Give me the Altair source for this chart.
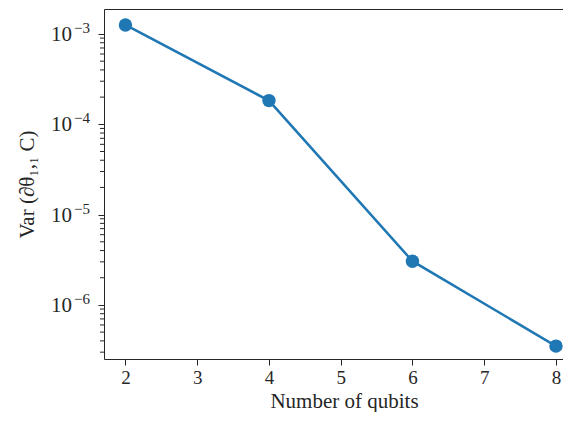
import altair as alt
import pandas as pd

# data
qubits = [2, 4, 6, 8]
variance = [1.26e-3, 1.83e-4, 3.05e-6, 3.5e-7]

x_ticks = [2, 3, 4, 5, 6, 7, 8]
y_major = [1e-6, 1e-5, 1e-4, 1e-3]
y_major_base = ["10", "10", "10", "10"]
y_major_exp = ["−6", "−5", "−4", "−3"]
Y_LO, Y_HI = 2.52e-7, 1.891e-3
y_minor = [k * 10.0 ** e for e in range(-7, -2) for k in range(2, 10)
           if Y_LO <= k * 10.0 ** e <= Y_HI]

df = pd.DataFrame({"qubits": qubits, "variance": variance})
df_major = pd.DataFrame({"value": y_major, "base": y_major_base, "exp": y_major_exp})
df_minor = pd.DataFrame({"value": y_minor})

FONT = "Liberation Serif"
BLUE = "#1f77b4"
AX = "#262626"

xscale = alt.Scale(domain=[1.701, 8.098], nice=False, zero=False)
yscale = alt.Scale(type="log", domain=[Y_LO, Y_HI], nice=False)

x_axis = alt.Axis(
    values=x_ticks, format="d", grid=False,
    tickSize=6, tickColor=AX, tickWidth=1,
    domainColor=AX, domainWidth=1,
    labelFont=FONT, labelFontSize=19, labelColor=AX, labelPadding=3,
    labelFlush=False, labelOverlap=False,
    title="Number of qubits", titleFont=FONT, titleFontSize=21,
    titleFontWeight="normal", titleColor=AX,
    titleX=240, titleY=48, titleBaseline="alphabetic",
)

y_axis = alt.Axis(
    values=y_major, labels=False, grid=False,
    tickSize=6, tickColor=AX, tickWidth=1,
    domainColor=AX, domainWidth=1,
    title="Var (∂θ₁,₁ C)", titleFont=FONT, titleFontSize=21,
    titleFontWeight="normal", titleColor=AX,
    titleX=-77, titleY=175, titleBaseline="middle",
)

Y = alt.Y("variance:Q", scale=yscale, axis=y_axis)
YV = alt.Y("value:Q", scale=yscale, axis=y_axis)

line = alt.Chart(df).mark_line(color=BLUE, strokeWidth=2.5).encode(
    x=alt.X("qubits:Q", scale=xscale, axis=x_axis),
    y=Y,
)

points = alt.Chart(df).mark_circle(color=BLUE, size=180, opacity=1).encode(
    x=alt.X("qubits:Q", scale=xscale, axis=None),
    y=Y,
)

top_spine = alt.Chart(df).mark_point(opacity=0).encode(
    x=alt.X("qubits:Q", scale=xscale,
            axis=alt.Axis(orient="top", labels=False, ticks=False, title=None,
                          grid=False, domainColor=AX, domainWidth=1)),
    y=Y,
)

minor_ticks = alt.Chart(df_minor).mark_rule(color=AX, strokeWidth=1).encode(
    x=alt.value(0), x2=alt.value(-4), y=YV,
)

label_base = alt.Chart(df_major).mark_text(
    align="right", baseline="alphabetic", dy=7, font=FONT, fontSize=21, color=AX
).encode(x=alt.value(-32), y=YV, text="base:N")

label_exp = alt.Chart(df_major).mark_text(
    align="left", baseline="alphabetic", dy=-1, font=FONT, fontSize=15, color=AX
).encode(x=alt.value(-30), y=YV, text="exp:N")

chart = (
    alt.layer(line, points, top_spine, minor_ticks, label_base, label_exp)
    .resolve_axis(x="independent")
    .properties(
        width=459, height=350,
        autosize=alt.AutoSizeParams(type="none"),
        padding={"left": 96, "top": 1, "right": 0, "bottom": 53},
        background="white",
    )
    .configure_view(stroke=None)
)

chart.save("out.html", embed_options={"renderer": "svg", "actions": False})
